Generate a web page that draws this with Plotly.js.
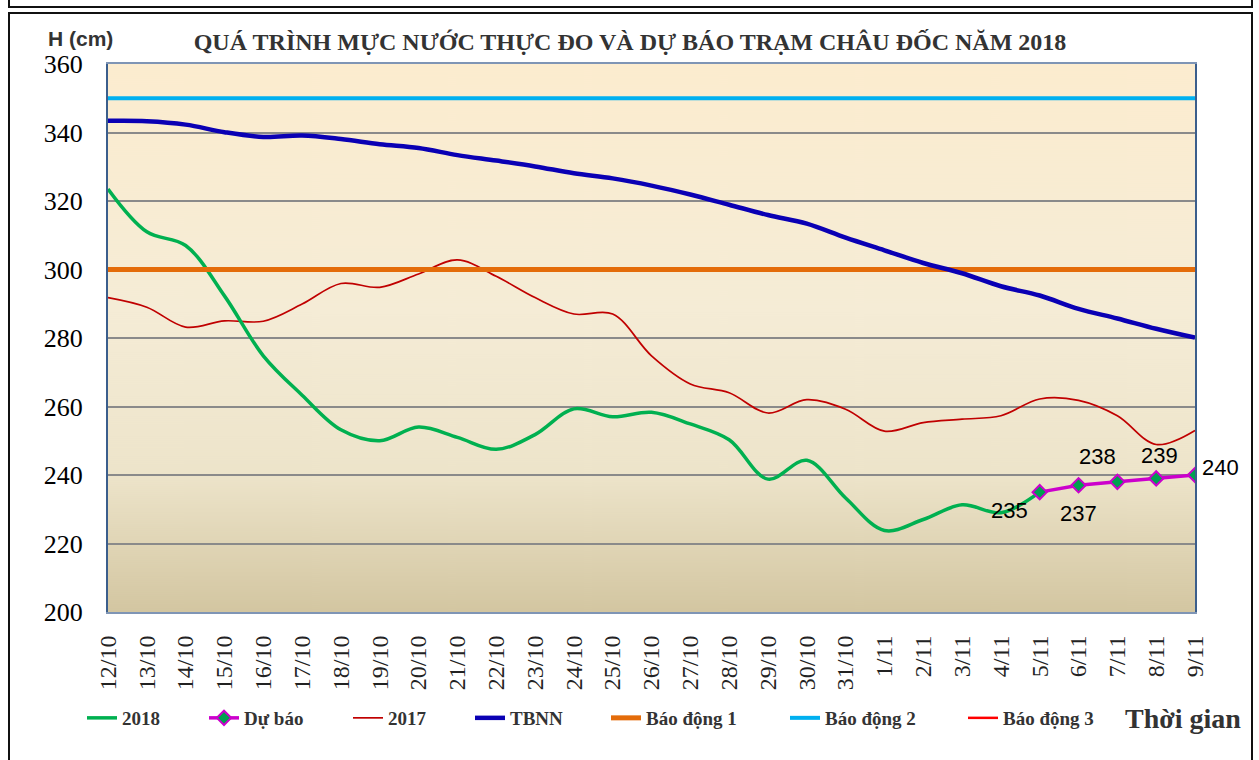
<!DOCTYPE html>
<html>
<head>
<meta charset="utf-8">
<script src="https://cdn.plot.ly/plotly-3.0.1.min.js"></script>
<style>
  html, body { margin: 0; padding: 0; background: #ffffff; }
  #frameTop { position: absolute; left: 8px; top: -10px; width: 1241px; height: 14px; border: 2px solid #111; }
  #frameMain { position: absolute; left: 8px; top: 12px; width: 1241px; height: 760px; border: 2px solid #111; }
  #chart { position: absolute; left: 0; top: 0; width: 1259px; height: 760px; }
</style>
</head>
<body>
<div id="frameTop"></div>
<div id="frameMain"></div>
<div id="chart"></div>
<script>
// ---------------- DATA ----------------
const categories = ['12/10','13/10','14/10','15/10','16/10','17/10','18/10','19/10','20/10','21/10',
  '22/10','23/10','24/10','25/10','26/10','27/10','28/10','29/10','30/10','31/10',
  '1/11','2/11','3/11','4/11','5/11','6/11','7/11','8/11','9/11'];

// Measured 2018 (12/10 .. 5/11)
const h2018 = [323.5, 311, 307, 292.3, 274.8, 263.3, 253.2, 250, 254, 251,
  247.5, 251.8, 259.3, 257, 258.3, 254.9, 250.3, 238.8, 244.3, 233.3,
  223.8, 227, 231.3, 229, 235];

// Forecast
const dubaoDates = ['5/11','6/11','7/11','8/11','9/11'];
const dubao = [235, 237, 238, 239, 240];

// 2017
const h2017 = [291.8, 289, 283.2, 285, 284.9, 289.9, 295.9, 294.8, 298.7, 302.8,
  298, 291.8, 287, 287, 274.8, 266.6, 264, 258.1, 262, 259.2,
  252.8, 255.3, 256.3, 257.3, 262.2, 261.8, 257.3, 248.9, 253];

// Long-term average (TBNN)
const tbnn = [343.4, 343.3, 342.3, 340.1, 338.7, 339.1, 338.1, 336.6, 335.5, 333.4,
  331.8, 330.1, 328.1, 326.6, 324.5, 321.9, 318.9, 315.9, 313.4, 309.3,
  305.6, 301.9, 298.9, 295.1, 292.4, 288.5, 285.7, 282.7, 280.1];

// Alarm levels (cm)
const alarm1 = 300;
const alarm2 = 350;
const alarm3 = 400;

const seriesNames = ['2018', 'Dự báo', '2017', 'TBNN', 'Báo động 1', 'Báo động 2', 'Báo động 3'];

// ---------------- LAYOUT HELPERS ----------------
const W = 1259, H = 760;
const M = { l: 108, r: 64, t: 64, b: 148 };
const PW = W - M.l - M.r, PH = H - M.t - M.b;
const px2x = px => (px - M.l) / PW;
const py2y = py => (H - M.b - py) / PH;

const SERIF = '"Liberation Serif", "Times New Roman", serif';
const SANS = '"Liberation Sans", Arial, sans-serif';

// label offsets for forecast values (pixels)
const labelShift = [[-30, -18], [0, -28], [-20, 25], [3, 23], [25, 8]];

// background gradient image
function gradientURL() {
  const c = document.createElement('canvas');
  c.width = 8; c.height = 548;
  const g = c.getContext('2d');
  const gr = g.createLinearGradient(0, 0, 0, 548);
  gr.addColorStop(0, '#FCECCF');
  gr.addColorStop(0.45, '#F5ECD6');
  gr.addColorStop(0.75, '#EDE4CA');
  gr.addColorStop(1, '#D3C6A1');
  g.fillStyle = gr; g.fillRect(0, 0, 8, 548);
  return c.toDataURL();
}

const legFont = { family: SERIF, size: 19, color: '#333333', weight: 'bold' };
const legendPx = [82, 204, 348, 470, 606, 785, 963];

const traces = [
  { x: categories, y: categories.map(() => alarm3), name: seriesNames[6], mode: 'lines',
    line: { color: '#FF0000', width: 2.5 }, legend: 'legend7', hoverinfo: 'skip' },
  { x: categories, y: categories.map(() => alarm2), name: seriesNames[5], mode: 'lines',
    line: { color: '#00B0F0', width: 4 }, legend: 'legend6' },
  { x: categories, y: h2017, name: seriesNames[2], mode: 'lines',
    line: { color: '#C00000', width: 1.7, shape: 'spline', smoothing: 1 }, legend: 'legend3' },
  { x: categories.slice(0, h2018.length), y: h2018, name: seriesNames[0], mode: 'lines',
    line: { color: '#00B050', width: 3.5, shape: 'spline', smoothing: 1 }, legend: 'legend' },
  { x: categories, y: categories.map(() => alarm1), name: seriesNames[4], mode: 'lines',
    line: { color: '#E46C0A', width: 5 }, legend: 'legend5' },
  { x: categories, y: tbnn, name: seriesNames[3], mode: 'lines',
    line: { color: '#0A00B4', width: 4.5, shape: 'spline', smoothing: 1 }, legend: 'legend4' },
  { x: dubaoDates, y: dubao, name: seriesNames[1], mode: 'lines+markers',
    line: { color: '#CC00CC', width: 3.5 },
    marker: { symbol: 'diamond', size: 11, color: '#00A050', line: { color: '#CC00CC', width: 2 } },
    legend: 'legend2' }
];

const annotations = dubao.map((v, i) => ({
  x: dubaoDates[i], y: v, xref: 'x', yref: 'y', text: String(v), showarrow: false,
  xshift: labelShift[i][0], yshift: labelShift[i][1],
  font: { family: SANS, size: 22, color: '#000000' }
}));
annotations.push({
  xref: 'paper', yref: 'paper', x: px2x(80), y: py2y(39), text: 'H (cm)', showarrow: false,
  xanchor: 'center', yanchor: 'middle',
  font: { family: SANS, size: 21, color: '#333333', weight: 'bold' }
});
annotations.push({
  xref: 'paper', yref: 'paper', x: px2x(1183), y: py2y(718), text: 'Thời gian', showarrow: false,
  xanchor: 'center', yanchor: 'middle',
  font: { family: SERIF, size: 28, color: '#333333', weight: 'bold' }
});

const layout = {
  width: W, height: H,
  margin: M,
  font: { family: SERIF, color: '#000000' },
  paper_bgcolor: 'rgba(0,0,0,0)',
  plot_bgcolor: 'rgba(0,0,0,0)',
  title: {
    text: 'QUÁ TRÌNH MỰC NƯỚC THỰC ĐO VÀ DỰ BÁO TRẠM CHÂU ĐỐC NĂM 2018',
    xref: 'container', yref: 'container', x: 630 / W, y: 1 - 42 / H,
    xanchor: 'center', yanchor: 'middle',
    font: { family: SERIF, size: 24, color: '#333333', weight: 'bold' }
  },
  images: [{ source: gradientURL(), xref: 'paper', yref: 'paper', x: 0, y: 1, sizex: 1, sizey: 1,
    sizing: 'stretch', xanchor: 'left', yanchor: 'top', layer: 'below' }],
  xaxis: {
    type: 'category', categoryorder: 'array', categoryarray: categories,
    range: [0, categories.length - 1],
    tickangle: -90, ticks: '', showgrid: false, zeroline: false,
    showline: true, linecolor: '#7F95B5', linewidth: 2, mirror: true,
    ticklabelstandoff: 12,
    tickfont: { family: SERIF, size: 24, color: '#222222' }
  },
  yaxis: {
    range: [200, 360], dtick: 20, tick0: 200, ticks: '',
    showgrid: true, gridcolor: '#8A8A8A', gridwidth: 2, zeroline: false,
    showline: true, linecolor: '#3B5E8C', linewidth: 2, mirror: true,
    ticklabelstandoff: 18,
    tickfont: { family: SERIF, size: 26, color: '#000000' }
  },
  annotations: annotations,
  showlegend: true
};

const legendKeys = ['legend', 'legend2', 'legend3', 'legend4', 'legend5', 'legend6', 'legend7'];
legendKeys.forEach((k, i) => {
  layout[k] = {
    x: px2x(legendPx[i]), y: py2y(718), xanchor: 'left', yanchor: 'middle',
    orientation: 'h', bgcolor: 'rgba(0,0,0,0)', borderwidth: 0, font: legFont
  };
});

Plotly.newPlot('chart', traces, layout, { displayModeBar: false, staticPlot: true });
</script>
</body>
</html>
